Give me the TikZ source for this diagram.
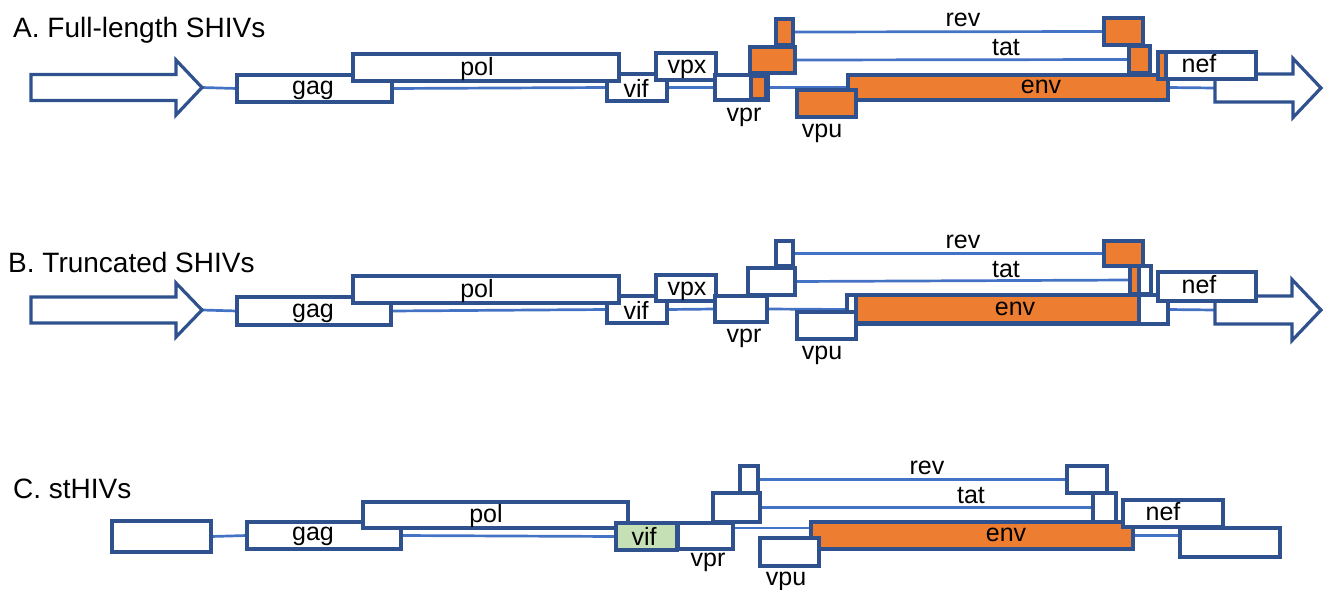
\documentclass[tikz,border=0pt]{standalone}
\usepackage{fontspec}
\setmainfont{Liberation Sans}
\usetikzlibrary{backgrounds}
\definecolor{bord}{HTML}{2F528F}
\definecolor{lnk}{HTML}{4472C4}
\definecolor{orng}{HTML}{ED7D31}
\definecolor{grn}{HTML}{C5E0B4}
\tikzset{
  gene/.style={draw=bord, line width=3.2pt, fill=white, inner sep=0pt, outer sep=0pt, rectangle},
  ogene/.style={fill=orng},
  ggene/.style={fill=grn},
  link/.style={draw=lnk, line width=2.7pt},
  lab/.style={font=\fontsize{25}{30}\selectfont, inner sep=0pt, anchor=base},
  ttl/.style={font=\fontsize{28}{33}\selectfont, inner sep=0pt, anchor=base west},
  arr/.style={draw=bord, line width=3.2pt, fill=white, line join=miter},
}
\newcommand{\gbox}[6][]{\node[gene,#1,minimum width={(#5)-(#3)},minimum height={(#6)-(#4)}] (#2) at ({((#3)+(#5))/2},{((#4)+(#6))/2}) {};}
\newcommand{\rarrow}[7]{%
  \draw[arr] ({#2},{#5-#6}) -- ({#3},{#5-#6}) -- ({#3},{#5-#7}) -- ({#4},{#5}) -- ({#3},{#5+#7}) -- ({#3},{#5+#6}) -- ({#2},{#5+#6}) -- cycle;
  \coordinate (#1-tip) at ({#4},{#5});
  \coordinate (#1-base) at ({#2},{#5});}
\begin{document}
\begin{tikzpicture}[x=1pt,y=-1pt]
\useasboundingbox (0,0) rectangle (1329,589);

% ---------- titles
\node[ttl] (tA) at (13,37) {A. Full-length SHIVs};
\node[ttl] (tB) at (8,272) {B. Truncated SHIVs};
\node[ttl] (tC) at (13,498) {C. stHIVs};

% ---------- A
\rarrow{aA5}{31}{176}{202}{87.5}{13}{27.5}
\rarrow{aA3}{1215}{1293}{1321}{88}{14}{29.5}
\gbox{gagA}{237}{75}{392}{102}
\gbox{vifA}{607}{74}{667}{101}
\gbox{polA}{353}{54}{619}{81}
\gbox{vpxA}{656}{53}{716}{80}
\gbox{vprA}{715}{75}{768}{100}
\gbox[ogene]{vprAo}{751}{76}{766}{99}
\gbox[ogene]{tatAa}{750}{47}{795}{73}
\gbox[ogene]{revAa}{776}{19}{793}{45}
\gbox[ogene]{envA}{848}{75}{1168}{100}
\gbox[ogene]{vpuA}{797}{90}{856}{117}
\gbox[ogene]{revAb}{1104}{18}{1143}{45}
\gbox[ogene]{tatAb}{1129}{46}{1150}{73}
\gbox{nefA}{1158}{52}{1256}{79}
\gbox[ogene]{nefAo}{1158}{52}{1166}{79}

\begin{scope}[on background layer]
  \draw[link] (aA5-tip) -- (gagA.west);
  \draw[link] (gagA.east) -- (vifA.west);
  \draw[link] (vifA.east) -- (vprA.west);
  \draw[link] (vprA.east) -- (envA.west);
  \draw[link] (revAa.east) -- (revAb.west);
  \draw[link] (tatAa.east) -- (tatAb.west);
  \draw[link] (envA.east) -- (aA3-base);
\end{scope}

\node[lab] (lgagA) at (313,94) {gag};
\node[lab] (lpolA) at (477,75) {pol};
\node[lab] (lvifA) at (636,97) {vif};
\node[lab] (lvpxA) at (687,73) {vpx};
\node[lab] (lvprA) at (744,121) {vpr};
\node[lab] (lvpuA) at (822,137) {vpu};
\node[lab] (lrevA) at (963,27) {rev};
\node[lab] (ltatA) at (1006,55) {tat};
\node[lab] (lenvA) at (1041,93) {env};
\node[lab] (lnefA) at (1199,72) {nef};

% ---------- B
\rarrow{aB5}{31}{176}{202}{310}{13}{27}
\rarrow{aB3}{1215}{1292}{1321}{310}{14}{30.5}
\gbox{gagB}{237}{297}{391}{325}
\gbox{vifB}{607}{296}{667}{323}
\gbox{polB}{353}{276}{619}{303}
\gbox{vpxB}{656}{275}{716}{301}
\gbox{vprB}{715}{296}{767}{322}
\gbox{tatBa}{748}{268}{795}{295}
\gbox{revBa}{776}{241}{793}{266}
\gbox{envB}{847}{295}{1168}{324}
\gbox[ogene]{envBo}{856}{295}{1139}{323}
\gbox{vpuB}{797}{312}{856}{339}
\gbox[ogene]{revBb}{1104}{241}{1143}{266}
\gbox{tatBb}{1130}{266}{1151}{294}
\gbox[ogene]{tatBbo}{1130}{266}{1139}{294}
\gbox{nefB}{1158}{272}{1256}{301}

\begin{scope}[on background layer]
  \draw[link] (aB5-tip) -- (gagB.west);
  \draw[link] (gagB.east) -- (vifB.west);
  \draw[link] (vifB.east) -- (vprB.west);
  \draw[link] (vprB.east) -- (envB.west);
  \draw[link] (revBa.east) -- (revBb.west);
  \draw[link] (tatBa.east) -- (tatBb.west);
  \draw[link] (envB.east) -- (aB3-base);
\end{scope}

\node[lab] (lgagB) at (313,317) {gag};
\node[lab] (lpolB) at (477,297) {pol};
\node[lab] (lvifB) at (636,319) {vif};
\node[lab] (lvpxB) at (687,295) {vpx};
\node[lab] (lvprB) at (744,342) {vpr};
\node[lab] (lvpuB) at (822,359) {vpu};
\node[lab] (lrevB) at (963,248) {rev};
\node[lab] (ltatB) at (1006,277) {tat};
\node[lab] (lenvB) at (1015,315) {env};
\node[lab] (lnefB) at (1199,293) {nef};

% ---------- C
\gbox{ltrC}{112}{521}{211}{552}
\gbox{gagC}{247}{522}{401}{549}
\gbox{polC}{363}{502}{628}{528}
\gbox[ggene]{vifC}{616}{523}{677}{550}
\gbox{vprC}{678}{523}{733}{549}
\gbox{tatCa}{713}{493}{760}{522}
\gbox{revCa}{740}{466}{758}{493}
\gbox[ogene]{envC}{811}{522}{1133}{549}
\gbox{vpuC}{760}{538}{819}{566}
\gbox{revCb}{1067}{466}{1107}{493}
\gbox{tatCb}{1093}{493}{1116}{522}
\gbox{nefC}{1123}{500}{1223}{527}
\gbox{endC}{1180}{528}{1280}{557}

\coordinate (vprCout) at ([yshift=8pt]vprC.east);
\begin{scope}[on background layer]
  \draw[link] (ltrC.east) -- (gagC.west);
  \draw[link] (gagC.east) -- (vifC.west);
  \draw[link] (vprCout) -- (vprCout -| envC.west);
  \draw[link] (revCa.east) -- (revCb.west);
  \draw[link] (tatCa.east) -- (tatCb.west);
  \draw[link] (envC.east) -- (envC.east -| endC.west);
\end{scope}

\node[lab] (lgagC) at (313,540) {gag};
\node[lab] (lpolC) at (486,522) {pol};
\node[lab] (lvifC) at (644,545) {vif};
\node[lab] (lvprC) at (708,566) {vpr};
\node[lab] (lvpuC) at (786,585) {vpu};
\node[lab] (lrevC) at (927,474) {rev};
\node[lab] (ltatC) at (971,503) {tat};
\node[lab] (lenvC) at (1006,541) {env};
\node[lab] (lnefC) at (1163,520) {nef};
\end{tikzpicture}
\end{document}
